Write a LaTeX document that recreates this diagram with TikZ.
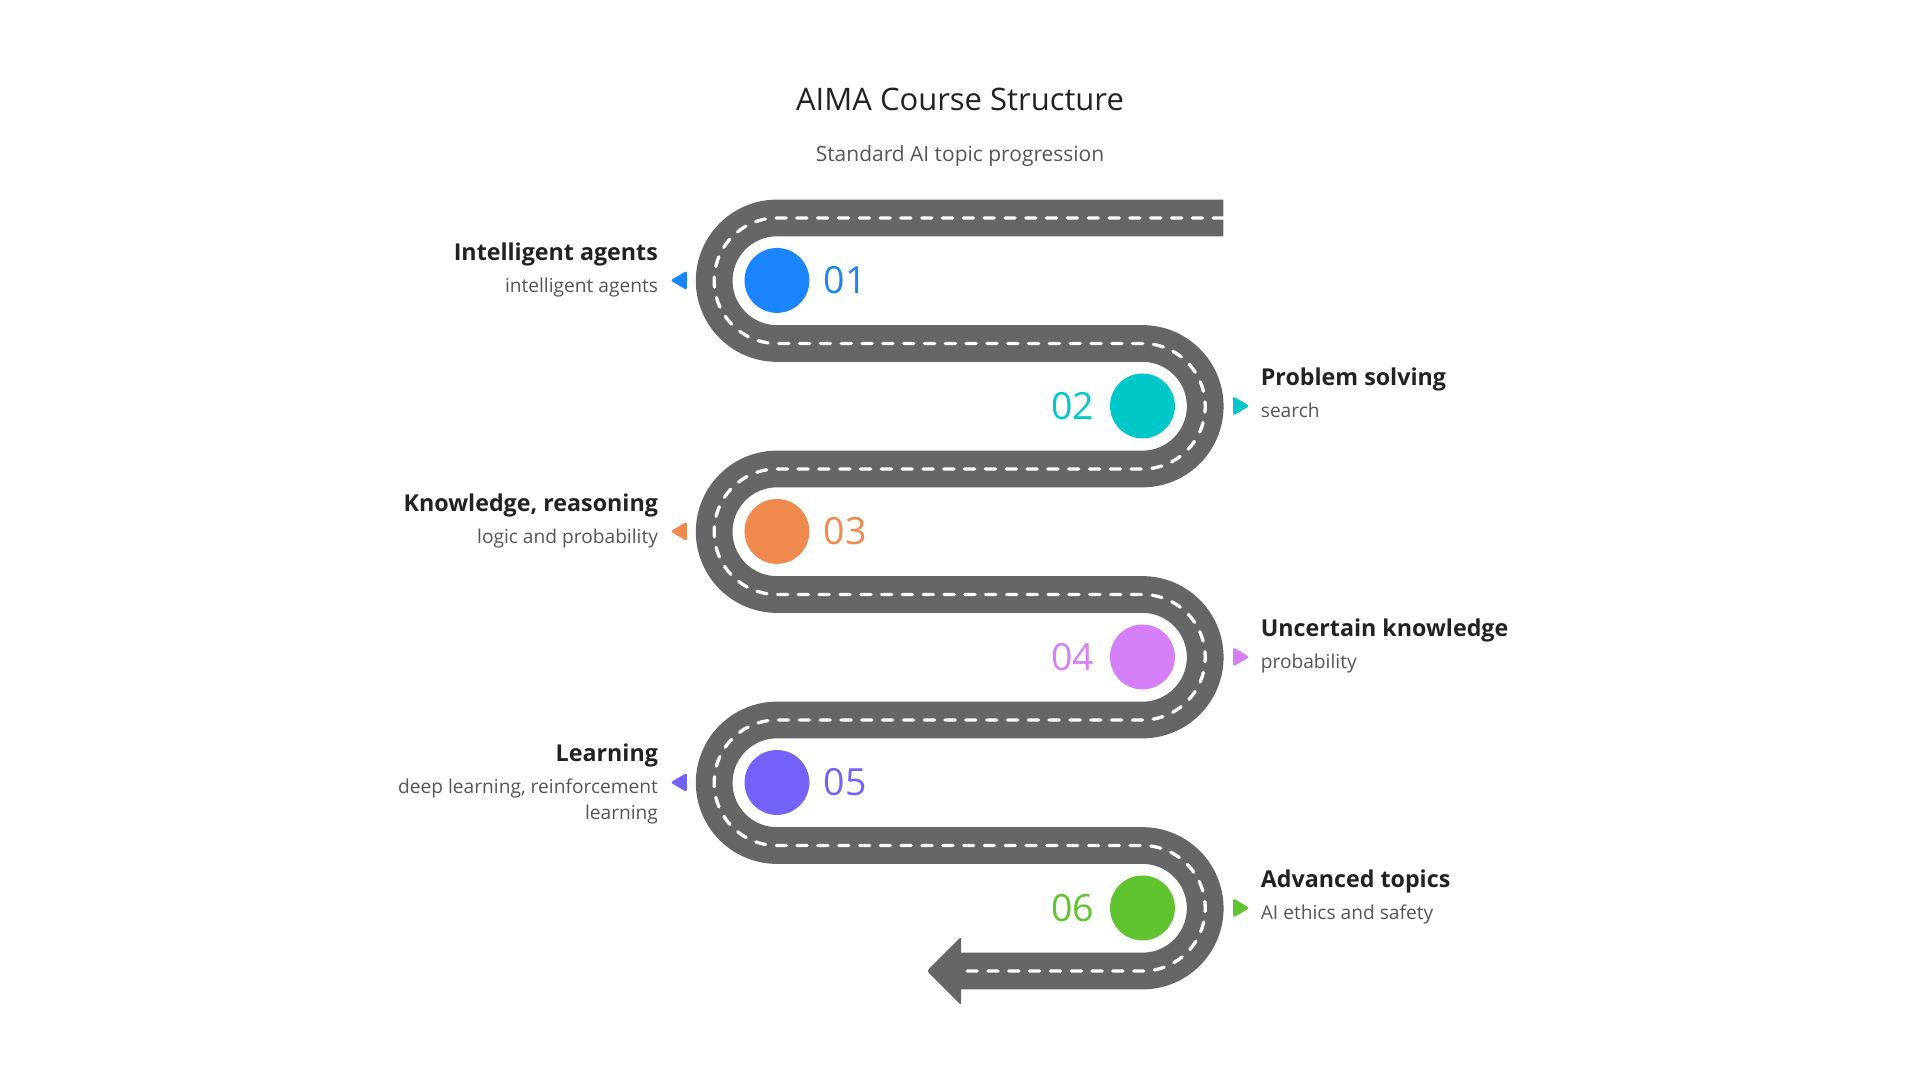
\documentclass[tikz,border=0pt]{standalone}
\usepackage{fontspec}
\setmainfont{Open Sans}
\definecolor{roadgray}{HTML}{666666}
\definecolor{titlegray}{HTML}{222222}
\definecolor{subgray}{HTML}{555555}
\definecolor{c_blue}{HTML}{1A85FF}
\definecolor{c_teal}{HTML}{00C8C8}
\definecolor{c_orange}{HTML}{F0894E}
\definecolor{c_violet}{HTML}{D580F8}
\definecolor{c_purple}{HTML}{7562F8}
\definecolor{c_green}{HTML}{5FC430}

\begin{document}
\begin{tikzpicture}[x=0.1mm, y=-0.1mm,
		road_style/.style={draw=roadgray, line width=3mm, line join=round},
		lane_style/.style={draw=white, line width=0.27mm, dash pattern=on 0.83mm off 0.87mm, line cap=round},
		dot_style/.style={circle, fill=#1, minimum size=5.3mm, inner sep=0pt},
		num_style/.style={text=#1, font=\fontsize{8.7}{10}\selectfont, inner sep=0pt},
		head_style/.style={text=titlegray, font=\bfseries\fontsize{5.4}{6.5}\selectfont, inner sep=0pt},
		sub_style/.style={text=subgray, font=\fontsize{4.45}{6.06}\selectfont, inner sep=0pt}]
		
		\useasboundingbox (0,0) rectangle (1568,882);
		
		\node[anchor=base, text=titlegray, font=\fontsize{7.2}{8}\selectfont] (title) at (784,90.4) {AIMA Course Structure};
		\node[anchor=base, text=subgray, font=\fontsize{4.87}{6}\selectfont] (subtitle) at (784,132) {Standard AI topic progression};
		
		% road
		\draw[road_style, postaction={lane_style}] (999,178) -- (634.5,178)
			arc[start angle=-90, end angle=-270, radius=51.25] -- (933,280.5)
			arc[start angle=-90, end angle=90, radius=51.25] -- (634.5,383)
			arc[start angle=-90, end angle=-270, radius=51.25] -- (933,485.5)
			arc[start angle=-90, end angle=90, radius=51.25] -- (634.5,588)
			arc[start angle=-90, end angle=-270, radius=51.25] -- (933,690.5)
			arc[start angle=-90, end angle=90, radius=51.25] -- (782,793);
		\fill[roadgray, rounded corners=0.2mm] (785,765) -- (757,793) -- (785,821) -- cycle;
		
		\node[dot_style=c_blue] (c1) at (634.5,229) {};
		\node[dot_style=c_teal] (c2) at (933,331.5) {};
		\node[dot_style=c_orange] (c3) at (634.5,434) {};
		\node[dot_style=c_violet] (c4) at (933,536.5) {};
		\node[dot_style=c_purple] (c5) at (634.5,639) {};
		\node[dot_style=c_green] (c6) at (933,741.5) {};
		
		\node[num_style=c_blue, anchor=west] (k1) at (672,229) {01};
		\node[num_style=c_teal, anchor=east] (k2) at (894,331.5) {02};
		\node[num_style=c_orange, anchor=west] (k3) at (672,434) {03};
		\node[num_style=c_violet, anchor=east] (k4) at (894,536.5) {04};
		\node[num_style=c_purple, anchor=west] (k5) at (672,639) {05};
		\node[num_style=c_green, anchor=east] (k6) at (894,741.5) {06};
		
		% markers
		\fill[c_blue, rounded corners=0.2mm] (561,221) -- (547.5,229) -- (561,237) -- cycle;
		\fill[c_teal, rounded corners=0.2mm] (1007,323.5) -- (1020.5,331.5) -- (1007,339.5) -- cycle;
		\fill[c_orange, rounded corners=0.2mm] (561,426) -- (547.5,434) -- (561,442) -- cycle;
		\fill[c_violet, rounded corners=0.2mm] (1007,528.5) -- (1020.5,536.5) -- (1007,544.5) -- cycle;
		\fill[c_purple, rounded corners=0.2mm] (561,631) -- (547.5,639) -- (561,647) -- cycle;
		\fill[c_green, rounded corners=0.2mm] (1007,733.5) -- (1020.5,741.5) -- (1007,749.5) -- cycle;
		
		\node[head_style, anchor=base east] (t1) at (538,212.5) {Intelligent agents};
		\node[sub_style, anchor=base east] (s1) at (538,238.5) {intelligent agents};
		\node[head_style, anchor=base west] (t2) at (1029,315) {Problem solving};
		\node[sub_style, anchor=base west] (s2) at (1029,341) {search};
		\node[head_style, anchor=base east] (t3) at (538,417.5) {Knowledge, reasoning};
		\node[sub_style, anchor=base east] (s3) at (538,443.5) {logic and probability};
		\node[head_style, anchor=base west] (t4) at (1029,520) {Uncertain knowledge};
		\node[sub_style, anchor=base west] (s4) at (1029,546) {probability};
		\node[head_style, anchor=base east] (t5) at (538,621.5) {Learning};
		\node[sub_style, anchor=base east, align=right] (s5) at (538,669.5) {deep learning, reinforcement\\learning};
		\node[head_style, anchor=base west] (t6) at (1029,725) {Advanced topics};
		\node[sub_style, anchor=base west] (s6) at (1029,751) {AI ethics and safety};
		
\end{tikzpicture}
\end{document}
